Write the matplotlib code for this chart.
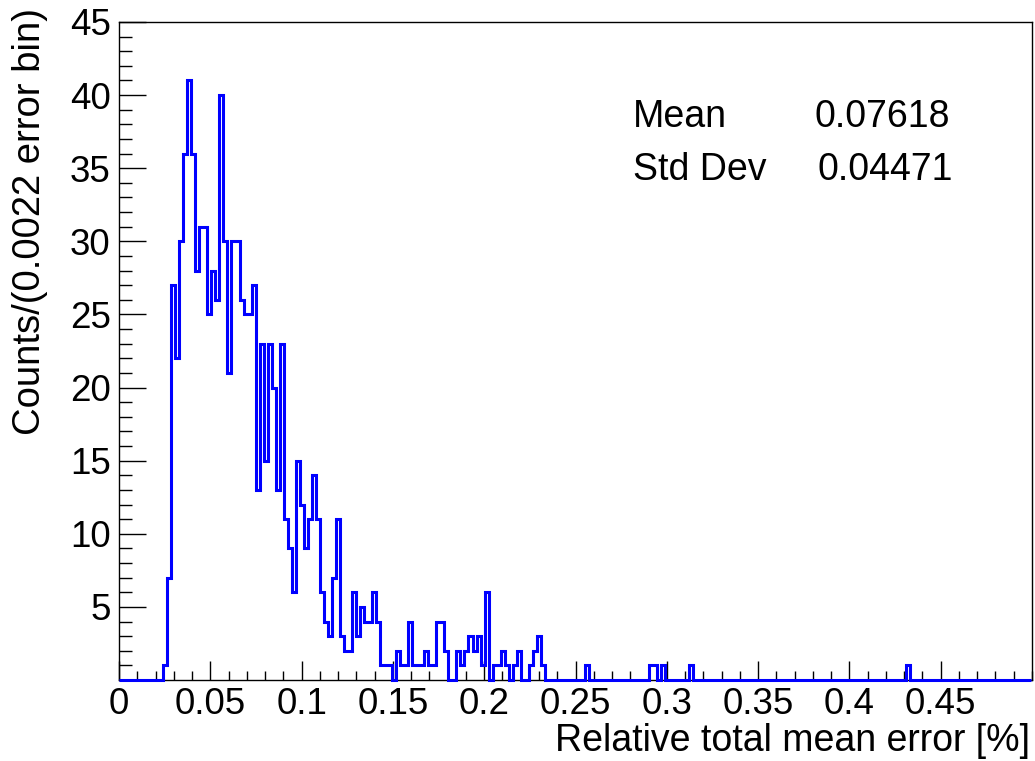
import numpy as np
import matplotlib
matplotlib.use("Agg")
import matplotlib.pyplot as plt
from matplotlib.ticker import MultipleLocator, FixedLocator

plt.rcParams['font.family'] = ['Liberation Sans', 'DejaVu Sans']

# Histogram definition: 227 bins of width 0.0022 starting at 0
bin_width = 0.0022
n_bins = 227

# Non-empty bins: bin index -> counts
filled_bins = [
    11, 12, 13, 14, 15, 16, 17, 18, 19, 20,
    21, 22, 23, 24, 25, 26, 27, 28, 29, 30,
    31, 32, 33, 34, 35, 36, 37, 38, 39, 40,
    41, 42, 43, 44, 45, 46, 47, 48, 49, 50,
    51, 52, 53, 54, 55, 56, 57, 58, 59, 60,
    61, 62, 63, 64, 65, 66, 67, 69, 70, 71,
    72, 73, 74, 75, 76, 77, 78, 79, 80, 81,
    84, 85, 86, 87, 88, 89, 90, 91,
    93, 94, 95, 96, 98, 99, 102, 103, 104, 105,
    116, 132, 133, 135, 142, 196,
]
filled_counts = [
    1, 7, 27, 22, 30, 36, 41, 36, 28, 31,
    31, 25, 28, 26, 40, 30, 21, 30, 30, 26,
    25, 25, 27, 13, 23, 15, 23, 20, 13, 23,
    11, 9, 6, 15, 12, 9, 11, 14, 11, 6,
    4, 3, 7, 11, 3, 2, 2, 6, 3, 5,
    4, 4, 6, 4, 1, 1, 1, 2, 1, 1,
    4, 1, 1, 1, 2, 1, 1, 4, 4, 2,
    2, 1, 2, 3, 2, 3, 1, 6,
    1, 1, 2, 1, 1, 2, 1, 2, 3, 1,
    1, 1, 1, 1, 1, 1,
]

stat_names = ["Mean", "Std Dev"]
stat_values = ["0.07618", "0.04471"]

x_ticks = [0, 0.05, 0.1, 0.15, 0.2, 0.25, 0.3, 0.35, 0.4, 0.45]
x_ticklabels = ["0", "0.05", "0.1", "0.15", "0.2", "0.25", "0.3", "0.35", "0.4", "0.45"]
y_ticks = [5, 10, 15, 20, 25, 30, 35, 40, 45]

counts = np.zeros(n_bins)
counts[filled_bins] = filled_counts
edges = np.arange(n_bins + 1) * bin_width

W, H = 1035, 761
fig = plt.figure(figsize=(W / 100, H / 100), dpi=100)
ax = fig.add_axes([119 / W, 1 - 680 / H, (1032 - 119) / W, (680 - 22) / H])

ax.stairs(counts, edges, baseline=0, fill=False, color=(0, 0, 1),
          linewidth=2.2, clip_on=False, zorder=5)

ax.set_xlim(0, 0.5)
ax.set_ylim(0, 45)

ax.xaxis.set_major_locator(FixedLocator(x_ticks))
ax.set_xticklabels(x_ticklabels)
ax.xaxis.set_minor_locator(MultipleLocator(0.01))
ax.yaxis.set_major_locator(FixedLocator(y_ticks))
ax.yaxis.set_minor_locator(MultipleLocator(1))

ax.tick_params(axis='both', which='both', direction='in', color='black',
               width=1.0, labelsize=26.5, top=False, right=False)
ax.tick_params(axis='y', which='major', length=19.5, pad=6)
ax.tick_params(axis='y', which='minor', length=9.5)
ax.tick_params(axis='x', which='major', length=13.5, pad=5)
ax.tick_params(axis='x', which='minor', length=6.5)

for s in ax.spines.values():
    s.set_linewidth(1.0)
    s.set_color('black')

fig.text(1030 / W, 1 - 751 / H, "Relative total mean error [%]",
         ha='right', va='baseline', fontsize=27)
fig.text(30 / W, 1 - 8 / H, "Counts/(0.0022 error bin)",
         ha='center', va='top', rotation=90, fontsize=27.5)

row_y = [117, 170]
value_x = [950, 953]
for name, val, yy, vx in zip(stat_names, stat_values, row_y, value_x):
    fig.text(633 / W, 1 - yy / H, name, ha='left', va='center', fontsize=27)
    fig.text(vx / W, 1 - yy / H, val, ha='right', va='center', fontsize=27)

fig.savefig("out.png", dpi=100, facecolor='white')
